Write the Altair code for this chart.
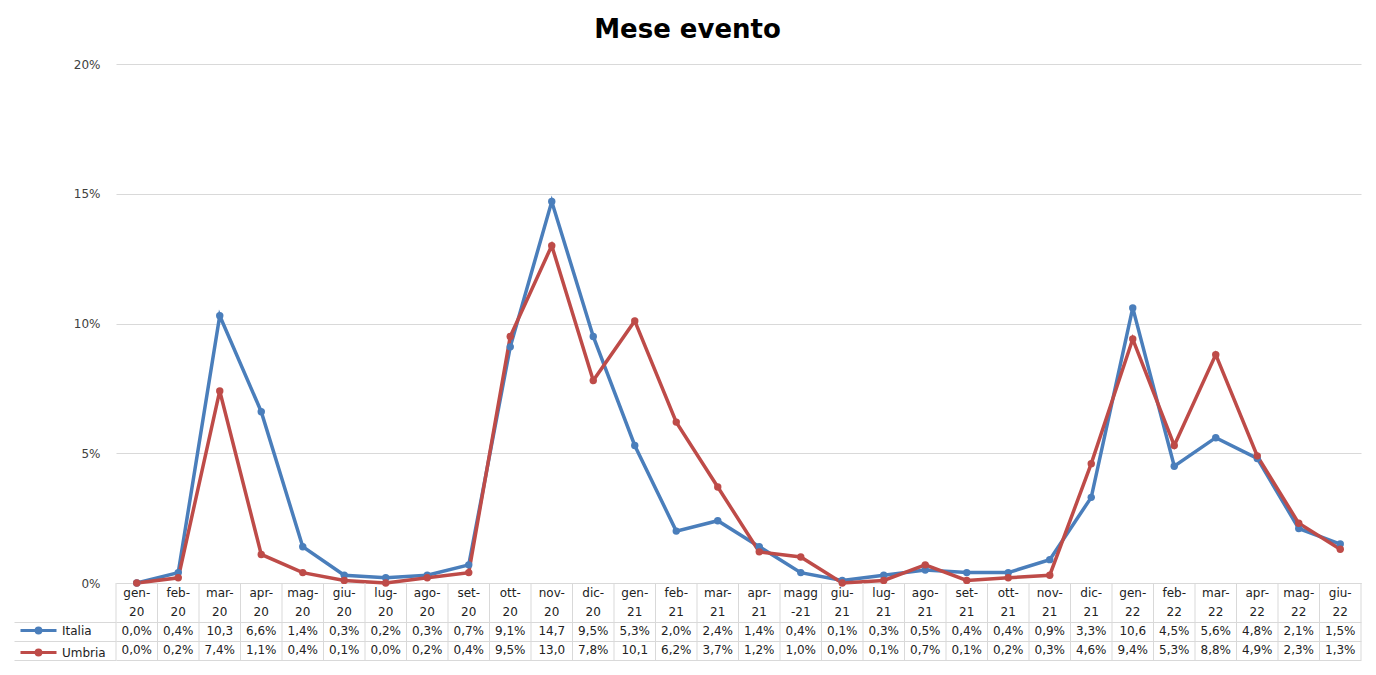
import altair as alt
import pandas as pd

mesi = ["gen-20", "feb-20", "mar-20", "apr-20", "mag-20", "giu-20", "lug-20", "ago-20",
        "set-20", "ott-20", "nov-20", "dic-20", "gen-21", "feb-21", "mar-21", "apr-21",
        "magg-21", "giu-21", "lug-21", "ago-21", "set-21", "ott-21", "nov-21", "dic-21",
        "gen-22", "feb-22", "mar-22", "apr-22", "mag-22", "giu-22"]
riga1 = ["gen-", "feb-", "mar-", "apr-", "mag-", "giu-", "lug-", "ago-", "set-", "ott-",
         "nov-", "dic-", "gen-", "feb-", "mar-", "apr-", "magg", "giu-", "lug-", "ago-",
         "set-", "ott-", "nov-", "dic-", "gen-", "feb-", "mar-", "apr-", "mag-", "giu-"]
riga2 = ["20"] * 12 + ["21"] * 4 + ["-21"] + ["21"] * 7 + ["22"] * 6

italia = [0.0, 0.4, 10.3, 6.6, 1.4, 0.3, 0.2, 0.3, 0.7, 9.1, 14.7, 9.5, 5.3, 2.0, 2.4, 1.4,
          0.4, 0.1, 0.3, 0.5, 0.4, 0.4, 0.9, 3.3, 10.6, 4.5, 5.6, 4.8, 2.1, 1.5]
umbria = [0.0, 0.2, 7.4, 1.1, 0.4, 0.1, 0.0, 0.2, 0.4, 9.5, 13.0, 7.8, 10.1, 6.2, 3.7, 1.2,
          1.0, 0.0, 0.1, 0.7, 0.1, 0.2, 0.3, 4.6, 9.4, 5.3, 8.8, 4.9, 2.3, 1.3]

serie = ["Italia", "Umbria"]
colori = ["#4A7EBB", "#BE4B48"]
righe = ["h1", "h2", "Italia", "Umbria"]

FONT = "DejaVu Sans"


def etichetta(v):
    s = f"{v:.1f}".replace(".", ",")
    return s if v >= 10 else s + "%"


rows = []
for m, a, b in zip(mesi, italia, umbria):
    rows.append({"mese": m, "serie": "Italia", "valore": a})
    rows.append({"mese": m, "serie": "Umbria", "valore": b})
df = pd.DataFrame(rows)

trows = []
for i, m in enumerate(mesi):
    trows.append({"mese": m, "riga": "h1", "testo": riga1[i]})
    trows.append({"mese": m, "riga": "h2", "testo": riga2[i]})
    trows.append({"mese": m, "riga": "Italia", "testo": etichetta(italia[i])})
    trows.append({"mese": m, "riga": "Umbria", "testo": etichetta(umbria[i])})
dft = pd.DataFrame(trows)

W = 1245
H_TAB = 77
xscale = alt.Scale(domain=mesi, paddingInner=0, paddingOuter=0)

simbolo = "M-3,0L3,0M-0.4,0A0.4,0.4 0 1,0 0.4,0A0.4,0.4 0 1,0 -0.4,0"

base = alt.Chart(df).encode(
    x=alt.X("mese:N", sort=mesi, scale=xscale,
            axis=alt.Axis(labels=False, ticks=False, title=None, grid=False,
                          domain=True, domainColor="#d9d9d9")),
    y=alt.Y("valore:Q", scale=alt.Scale(domain=[0, 20]),
            axis=alt.Axis(values=[0, 5, 10, 15, 20], labelExpr="datum.value + '%'",
                          grid=True, gridColor="#d9d9d9", domain=False, ticks=False,
                          labelPadding=16, title=None, labelFont=FONT, labelFontSize=12,
                          labelColor="#404040")),
    color=alt.Color("serie:N", scale=alt.Scale(domain=serie, range=colori),
                    legend=alt.Legend(orient="none", legendX=-85, legendY=559, title=None,
                                      symbolType=simbolo, symbolSize=144,
                                      symbolStrokeWidth=3, labelOffset=16,
                                      labelFont=FONT, labelFontSize=12, labelColor="#222222",
                                      rowPadding=5, padding=0)),
)
top = (base.mark_line(strokeWidth=3.5) + base.mark_point(filled=True, size=55, opacity=1)).properties(
    width=W, height=519, view=alt.ViewBackground(stroke="transparent"))

testo = alt.Chart(dft).mark_text(font=FONT, fontSize=12, color="#222222").encode(
    x=alt.X("mese:N", sort=mesi, scale=xscale, axis=None),
    y=alt.Y("riga:N", sort=righe, scale=alt.Scale(domain=righe, paddingInner=0, paddingOuter=0),
            axis=alt.Axis(values=["Italia", "Umbria"], tickBand="extent", labels=False,
                          tickSize=102, tickColor="#d9d9d9", grid=True, gridColor="#d9d9d9",
                          domain=False, title=None)),
    text="testo:N",
)
bordi = alt.Chart(pd.DataFrame({"mese": mesi})).mark_rule(color="#d9d9d9").encode(
    x=alt.X("mese:N", sort=mesi, scale=xscale, bandPosition=0, axis=None))
bordo_fine = alt.Chart(pd.DataFrame({"mese": mesi[-1:]})).mark_rule(color="#d9d9d9").encode(
    x=alt.X("mese:N", sort=mesi, scale=xscale, bandPosition=1, axis=None))

bottom = (bordi + bordo_fine + testo).properties(
    width=W, height=H_TAB, view=alt.ViewBackground(stroke="transparent"))

chart = alt.vconcat(top, bottom, spacing=0, bounds="flush").resolve_scale(
    color="independent").properties(
    title=alt.TitleParams("Mese evento", font=FONT, fontSize=26, fontWeight="bold",
                          color="#000000", anchor="middle", offset=15),
    padding={"left": 5, "top": 8, "right": 0, "bottom": 0},
)

chart.save("out.html", embed_options={"renderer": "svg", "actions": False})
